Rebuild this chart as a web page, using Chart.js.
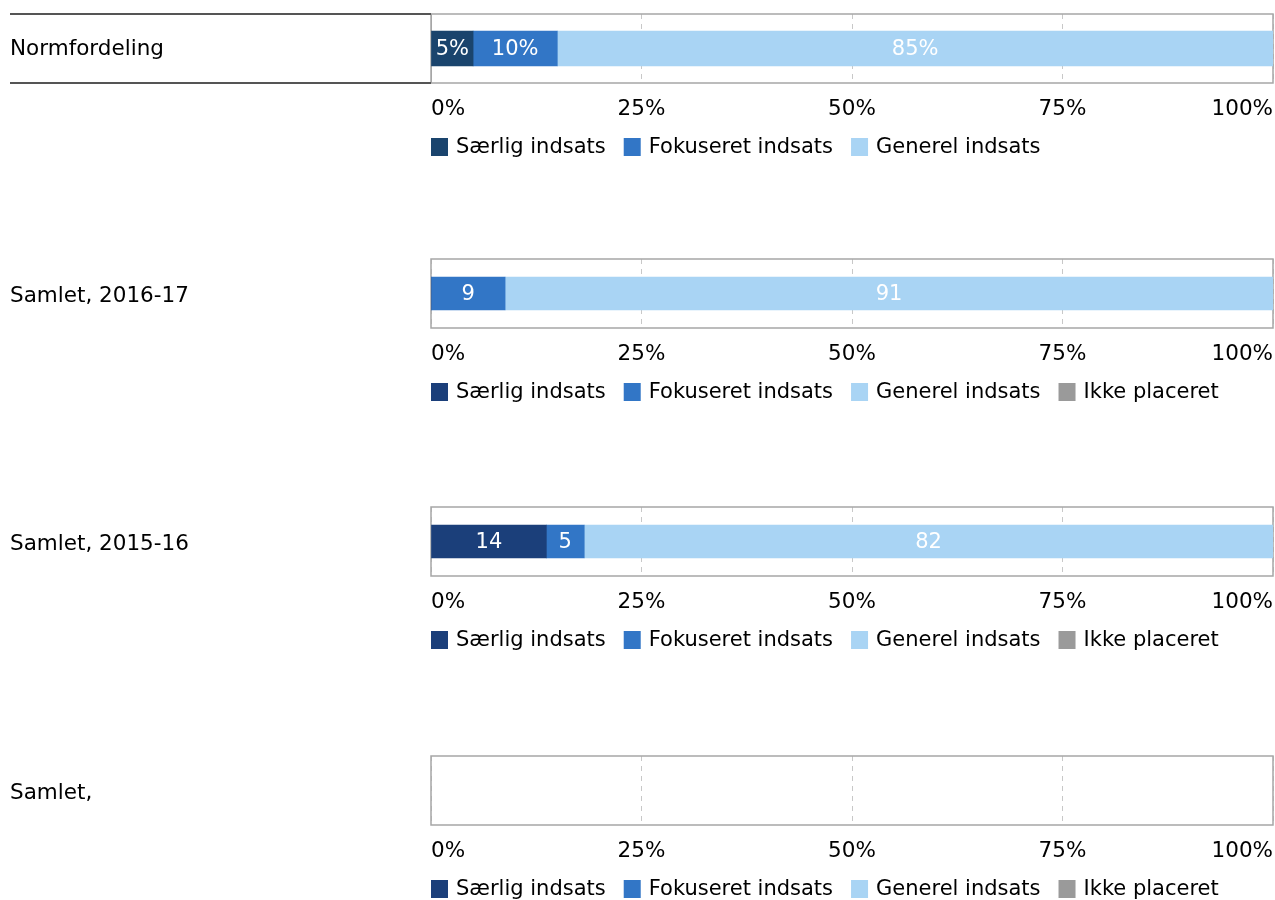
<!DOCTYPE html>
<html>
<head>
<meta charset="utf-8">
<script src="https://cdn.jsdelivr.net/npm/chart.js@4"></script>
<style>
  body { margin: 0; background: #fff; width: 1275px; height: 900px; overflow: hidden; position: relative; }
  .panel { position: absolute; left: 0; width: 1275px; height: 248px; }
</style>
</head>
<body>
<div class="panel" style="top:0px"><canvas id="c0" width="1275" height="248"></canvas></div>
<div class="panel" style="top:245px"><canvas id="c1" width="1275" height="248"></canvas></div>
<div class="panel" style="top:493px"><canvas id="c2" width="1275" height="248"></canvas></div>
<div class="panel" style="top:742px"><canvas id="c3" width="1275" height="248"></canvas></div>
<script>
// ─── Data ────────────────────────────────────────────────────────
const categories = ["Normfordeling", "Samlet, 2016-17", "Samlet, 2015-16", "Samlet,"];
const seriesNames = ["Særlig indsats", "Fokuseret indsats", "Generel indsats", "Ikke placeret"];
const saerlig      = [5, 0, 13.7, null];
const fokuseret    = [10, 8.8, 4.5, null];
const generel      = [85, 91.2, 81.8, null];
const ikkePlaceret = [null, 0, 0, null];
const xTicks = ["0%", "25%", "50%", "75%", "100%"];

// ─── Style ───────────────────────────────────────────────────────
const FONT = "'DejaVu Sans', Verdana, sans-serif";
const colorsNorm = ["#1a446d", "#3276c6", "#a9d4f4"];
const colorsMain = ["#1b3f7a", "#3276c6", "#a9d4f4", "#9a9a9a"];

// frame around plot area (+ row box for Normfordeling)
const framePlugin = {
  id: "frame",
  beforeDatasetsDraw(chart, args, opts) {
    const { ctx, chartArea: a } = chart;
    ctx.save();
    ctx.strokeStyle = "#a6a6a6";
    ctx.lineWidth = 1.5;
    ctx.strokeRect(a.left, a.top, a.right - a.left, a.bottom - a.top);
    if (opts.rowBox) {
      ctx.strokeStyle = "#555";
      ctx.lineWidth = 2;
      ctx.beginPath();
      ctx.moveTo(10, a.top); ctx.lineTo(a.left, a.top);
      ctx.moveTo(10, a.bottom); ctx.lineTo(a.left, a.bottom);
      ctx.stroke();
      ctx.strokeStyle = "#a6a6a6";
      ctx.lineWidth = 1;
      ctx.beginPath();
      ctx.moveTo(a.left + 0.5, a.top); ctx.lineTo(a.left + 0.5, a.bottom);
      ctx.stroke();
    }
    ctx.restore();
  },
};

// white value labels inside the segments
const valueLabels = {
  id: "valueLabels",
  afterDatasetsDraw(chart, args, opts) {
    const { ctx } = chart;
    ctx.save();
    ctx.font = "21px " + FONT;
    ctx.fillStyle = "#fff";
    ctx.textAlign = "center";
    ctx.textBaseline = "middle";
    chart.data.datasets.forEach((ds, i) => {
      chart.getDatasetMeta(i).data.forEach((bar, j) => {
        const v = ds.data[j];
        if (!v) return;
        ctx.fillText(Math.round(v) + (opts.suffix || ""), (bar.x + bar.base) / 2, bar.y + 1);
      });
    });
    ctx.restore();
  },
};

// legend below the tick labels, starting at the plot's left edge
const bottomLegend = {
  id: "bottomLegend",
  afterDraw(chart) {
    const { ctx, chartArea: a } = chart;
    const y = a.bottom + 64;
    let x = a.left;
    ctx.save();
    ctx.font = "21px " + FONT;
    ctx.textBaseline = "middle";
    ctx.textAlign = "left";
    chart.data.datasets.forEach(ds => {
      ctx.fillStyle = ds.backgroundColor;
      ctx.fillRect(x, y - 9, 17, 18);
      ctx.fillStyle = "#000";
      ctx.fillText(ds.label, x + 25, y + 1);
      x += 25 + ctx.measureText(ds.label).width + 18;
    });
    ctx.restore();
  },
};

function makePanel(canvasId, idx) {
  const isNorm = idx === 0;
  const colors = isNorm ? colorsNorm : colorsMain;
  const series = [saerlig, fokuseret, generel, ikkePlaceret];
  const datasets = [];
  for (let s = 0; s < (isNorm ? 3 : 4); s++) {
    datasets.push({
      label: seriesNames[s],
      data: [series[s][idx]],
      backgroundColor: colors[s],
      barThickness: isNorm ? 35 : 33,
    });
  }

  new Chart(document.getElementById(canvasId), {
    type: "bar",
    data: { labels: [categories[idx]], datasets },
    options: {
      indexAxis: "y",
      responsive: false,
      animation: false,
      layout: { padding: { top: 14, left: 10, right: 2, bottom: 0 } },
      plugins: {
        legend: { display: false },
        tooltip: { enabled: false },
        frame: { rowBox: isNorm },
        valueLabels: { suffix: isNorm ? "%" : "" },
      },
      scales: {
        x: {
          stacked: true,
          min: 0, max: 100,
          ticks: {
            stepSize: 25,
            align: "inner",
            padding: 14,
            color: "#000",
            font: { family: FONT, size: 21.5 },
            callback: (v, i) => xTicks[i],
          },
          grid: { color: "#c8c8c8", drawTicks: false, lineWidth: 1 },
          border: { display: false, dash: [5, 5] },
          afterFit: sc => {
            sc.height = 165;
            sc.paddingLeft = 0;
            sc.paddingRight = 0;
          },
        },
        y: {
          stacked: true,
          ticks: {
            crossAlign: "far",
            padding: 0,
            labelOffset: isNorm ? 1 : 3,
            color: "#000",
            font: { family: FONT, size: 21.5 },
          },
          grid: { display: false },
          border: { display: false },
          afterFit: sc => { sc.width = 421; },
        },
      },
    },
    plugins: [framePlugin, valueLabels, bottomLegend],
  });
}

// ─── Init ────────────────────────────────────────────────────────
makePanel("c0", 0);
makePanel("c1", 1);
makePanel("c2", 2);
makePanel("c3", 3);
</script>
</body>
</html>
